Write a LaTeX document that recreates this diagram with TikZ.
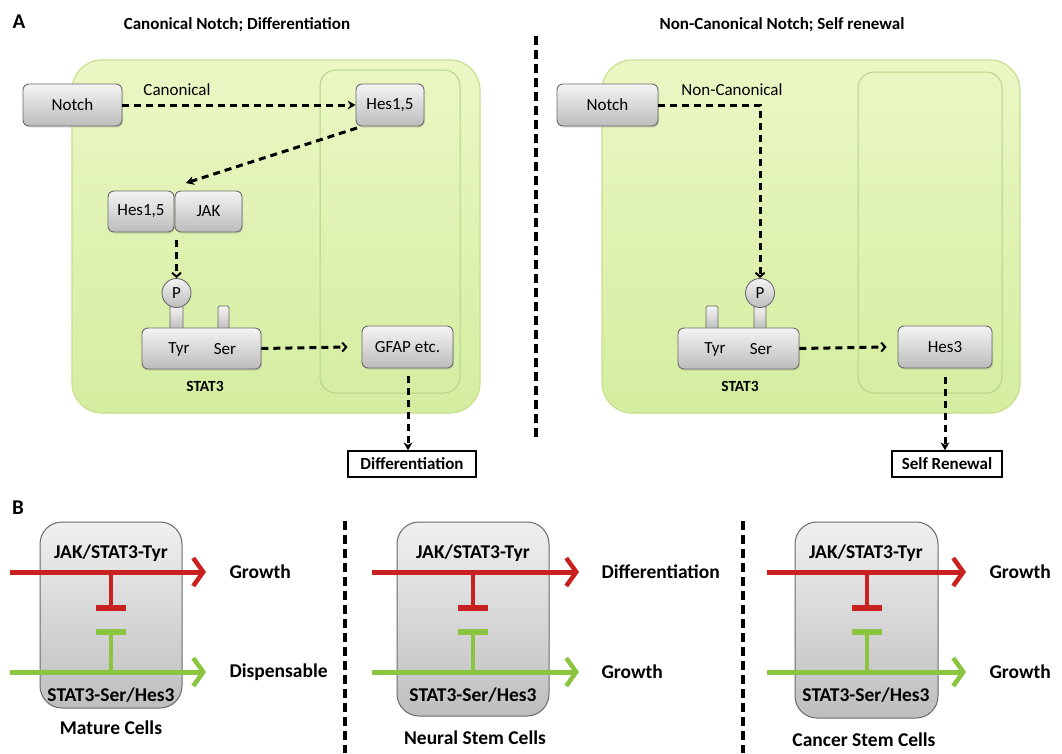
\documentclass[tikz,border=0pt]{standalone}
\usepackage{fontspec}
\setmainfont{Carlito}
\usetikzlibrary{arrows.meta,shadows}
\definecolor{boxtop}{HTML}{F4F4F4}
\definecolor{boxbot}{HTML}{BCBCBC}
\definecolor{boxline}{HTML}{6A6A6A}
\definecolor{celltop}{HTML}{EBF7C4}
\definecolor{cellbot}{HTML}{D4EDA0}
\definecolor{cellline}{HTML}{C6E08F}
\definecolor{nucline}{HTML}{B3D488}
\definecolor{tred}{HTML}{C8211F}
\definecolor{tgreen}{HTML}{8BC53F}
\definecolor{bboxtop}{HTML}{F0F0F0}
\definecolor{bboxbot}{HTML}{BEBEBE}
\tikzset{
  fA/.style={font=\fontsize{17}{19}\selectfont},
  fAb/.style={font=\bfseries\fontsize{17}{19}\selectfont},
  fB/.style={font=\bfseries\fontsize{19.5}{22}\selectfont},
  gbox/.style={draw=boxline, line width=0.9pt, rounded corners=6pt,
    top color=boxtop, bottom color=boxbot, minimum height=42pt,
    inner sep=0pt, fA, drop shadow={opacity=0.25, shadow xshift=1pt, shadow yshift=-1.5pt}},
  stem/.style={draw=boxline, line width=0.8pt, rounded corners=1.5pt,
    top color=boxtop, bottom color=boxbot},
  pcirc/.style={circle, draw=boxline, line width=0.9pt, top color=boxtop,
    bottom color=boxbot, minimum size=29pt, inner sep=0pt, fA},
  cell/.style={draw=cellline, line width=1.2pt, rounded corners=30pt,
    top color=celltop, bottom color=cellbot},
  nuc/.style={draw=nucline, line width=1pt, rounded corners=16pt},
  outbox/.style={draw=black, line width=1.4pt, fill=white, inner sep=0pt,
    minimum height=26pt, fAb},
  darr/.style={draw=black, line width=3pt, dash pattern=on 7pt off 5pt,
    -{Stealth[length=8pt,width=9pt,line width=0pt]}},
  darrb/.style={draw=black, line width=3pt, dash pattern=on 7pt off 5pt,
    -{Straight Barb[length=4pt,width=9pt,line width=2pt]}},
  divider/.style={draw=black, line width=3.2pt, dash pattern=on 9pt off 5pt},
  bcell/.style={draw=boxline, line width=1pt, rounded corners=22pt,
    top color=bboxtop, bottom color=bboxbot},
  redarr/.style={draw=tred, line width=5pt,
    -{Straight Barb[length=10pt,width=28pt,line width=4.5pt]}},
  greenarr/.style={draw=tgreen, line width=5pt,
    -{Straight Barb[length=10pt,width=28pt,line width=4.5pt]}},
  redT/.style={draw=tred, line width=3.5pt},
  greenT/.style={draw=tgreen, line width=3.5pt},
  redbar/.style={draw=tred, line width=5.5pt},
  greenbar/.style={draw=tgreen, line width=5.5pt},
  plabel/.style={font=\bfseries\fontsize{21}{24}\selectfont},
}
\begin{document}
\begin{tikzpicture}[x=1pt,y=-1pt]
\useasboundingbox (0,0) rectangle (1062,753);
\fill[white] (0,0) rectangle (1062,753);

% ================= Panel A =================
\node[plabel] (labA) at (19,22) {A};
\node[fAb] (t1) at (237,25) {Canonical Notch; Differentiation};
\node[fAb] (t2) at (782,25) {Non-Canonical Notch; Self renewal};

\draw[divider] (536,36) -- (536,437);

% left cell
\draw[cell] (72,60) rectangle (480,413);
\draw[nuc] (320,70) rectangle (460,393);

\node[gbox, minimum width=99pt] (notch1) at (72.5,105) {Notch};
\node[gbox, minimum width=68pt] (hesA) at (390,105) {Hes1,5};
\node[fA] (canon) at (177,90) {Canonical};
\node[gbox, minimum width=66pt, minimum height=41pt] (hesB) at (141,211.5) {Hes1,5};
\node[gbox, minimum width=67pt, minimum height=41pt] (jak) at (208.5,211.5) {JAK};

\draw[stem] (170,306) rectangle (183,330);
\draw[stem] (218,306) rectangle (229,330);
\node[gbox, minimum width=119pt, minimum height=41pt] (stat1) at (201.5,348.5) {};
\node[fA] (tyr1) at (179,349) {Tyr};
\node[fA] (ser1) at (225,349) {Ser};
\node[pcirc] (p1) at (176.5,293) {P};
\node[fAb, font=\bfseries\fontsize{15.5}{18}\selectfont] (st1) at (205,386) {STAT3};

\node[gbox, minimum width=91pt] (gfap) at (407.5,347) {GFAP etc.};
\node[outbox, minimum width=128pt] (diff) at (412,464) {Differentiation};

\coordinate (c1) at (357,128);
\coordinate (c2) at (186,183);
\draw[darr] (notch1.east) -- (hesA.west);
\draw[darr] (c1) -- (c2);
\draw[darrb] (176.5,240) -- (p1.north);
\draw[darrb] (stat1.east) -- ([xshift=-14pt]gfap.west);
\draw[darr] (408,376) -- (diff.north -| 408,0);

% right cell
\draw[cell] (602,60) rectangle (1020,413);
\draw[nuc] (858,72) rectangle (1002,393);

\node[gbox, minimum width=101pt] (notch2) at (607.5,105) {Notch};
\node[fA] (noncanon) at (732,90) {Non-Canonical};

\draw[stem] (706,306) rectangle (718,330);
\draw[stem] (754,306) rectangle (766,330);
\node[gbox, minimum width=121pt, minimum height=41pt] (stat2) at (738.5,348.5) {};
\node[fA] (tyr2) at (715,349) {Tyr};
\node[fA] (ser2) at (761,349) {Ser};
\node[pcirc] (p2) at (760,293) {P};
\node[fAb, font=\bfseries\fontsize{15.5}{18}\selectfont] (st2) at (740,386) {STAT3};

\node[gbox, minimum width=94pt] (hes3) at (945,347) {Hes3};
\node[outbox, minimum width=110pt] (self) at (947,464) {Self Renewal};

\coordinate (bend) at (760,105);
\draw[darrb] (notch2.east) -- (bend) -- (p2.north);
\draw[darrb] (stat2.east) -- ([xshift=-11pt]hes3.west);
\draw[darr] (945,377) -- (self.north -| 945,0);

% ================= Panel B =================
\node[plabel] (labB) at (18,508) {B};
\draw[divider] (345,521) -- (345,753);
\draw[divider] (743,521) -- (743,753);

% box 1
\draw[bcell] (40,522) rectangle (182,708);
\node[fB] (j1) at (111,553) {JAK/STAT3-Tyr};
\node[fB] (s1) at (111,695) {STAT3-Ser/Hes3};
\node[fB] (m1) at (111,728) {Mature Cells};
\coordinate (r1a) at (10,572); \coordinate (r1b) at (206,572);
\coordinate (g1a) at (10,672); \coordinate (g1b) at (206,672);
\draw[redT] (111,572) -- (111,608);
\draw[redbar] (96,608) -- (126,608);
\draw[greenbar] (96,632) -- (126,632);
\draw[greenT] (111,632) -- (111,672);
\draw[redarr] (r1a) -- (r1b);
\draw[greenarr] (g1a) -- (g1b);
\node[fB, anchor=west] (o1a) at (226,572) {Growth};
\node[fB, anchor=west] (o1b) at (226,672) {Dispensable};

% box 2
\draw[bcell] (397,522) rectangle (549,716);
\node[fB] (j2) at (473,553) {JAK/STAT3-Tyr};
\node[fB] (s2) at (473,695) {STAT3-Ser/Hes3};
\node[fB] (m2) at (475,738) {Neural Stem Cells};
\coordinate (r2a) at (372,572); \coordinate (r2b) at (579,572);
\coordinate (g2a) at (372,672); \coordinate (g2b) at (579,672);
\draw[redT] (473,572) -- (473,608);
\draw[redbar] (458,608) -- (488,608);
\draw[greenbar] (458,632) -- (488,632);
\draw[greenT] (473,632) -- (473,672);
\draw[redarr] (r2a) -- (r2b);
\draw[greenarr] (g2a) -- (g2b);
\node[fB, anchor=west] (o2a) at (598,572) {Differentiation};
\node[fB, anchor=west] (o2b) at (598,672) {Growth};

% box 3
\draw[bcell] (795,522) rectangle (938,718);
\node[fB] (j3) at (866,553) {JAK/STAT3-Tyr};
\node[fB] (s3) at (866,695) {STAT3-Ser/Hes3};
\node[fB] (m3) at (864,740) {Cancer Stem Cells};
\coordinate (r3a) at (767,572); \coordinate (r3b) at (966,572);
\coordinate (g3a) at (767,672); \coordinate (g3b) at (966,672);
\draw[redT] (867,572) -- (867,608);
\draw[redbar] (852,608) -- (882,608);
\draw[greenbar] (852,632) -- (882,632);
\draw[greenT] (867,632) -- (867,672);
\draw[redarr] (r3a) -- (r3b);
\draw[greenarr] (g3a) -- (g3b);
\node[fB, anchor=west] (o3a) at (986,572) {Growth};
\node[fB, anchor=west] (o3b) at (986,672) {Growth};
\end{tikzpicture}
\end{document}
